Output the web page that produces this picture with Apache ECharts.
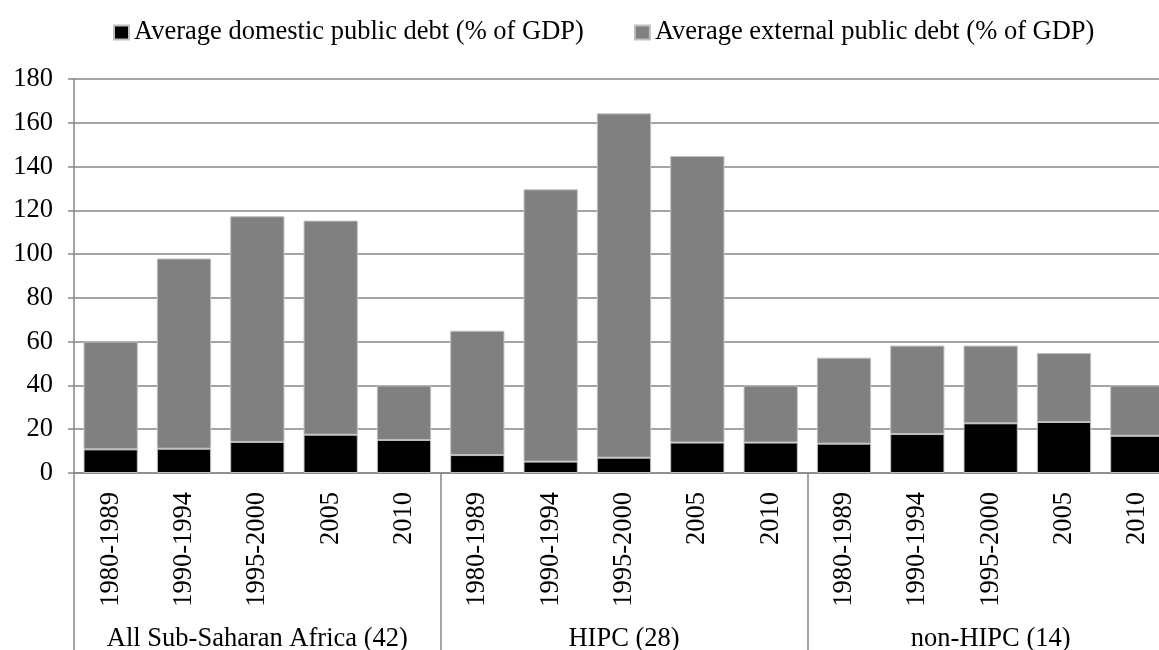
<!DOCTYPE html>
<html>
<head>
<meta charset="utf-8">
<script src="https://cdn.jsdelivr.net/npm/echarts@6/dist/echarts.min.js"></script>
<style>
    html, body { margin: 0; padding: 0; background: #fff; }
    #container { width: 1159px; height: 650px; }
</style>
</head>
<body>
<div id="container"></div>
<script>
    // periods repeated inside each country group
    var periods = ['1980-1989', '1990-1994', '1995-2000', '2005', '2010'];
    var groups = ['All Sub-Saharan Africa (42)', 'HIPC (28)', 'non-HIPC (14)'];
    var categories = [].concat(periods, periods, periods);

    // % of GDP
    var domestic = [10.8, 11.1, 14.2, 17.5, 15.1,   8.2, 5.2, 7.0, 13.9, 13.9,   13.4, 17.8, 22.7, 23.3, 17.0];
    var external = [49.2, 86.9, 103.1, 97.8, 24.9,  56.8, 124.4, 157.3, 130.9, 26.1,  39.3, 40.4, 35.5, 31.5, 23.0];

    var seriesNames = ['Average domestic public debt (% of GDP)', 'Average external public debt (% of GDP)'];
    var yTicks = { min: 0, max: 180, interval: 20 };

    var font = '"Liberation Serif", "Times New Roman", serif';
    var fs = 26.5;
    var gridColor = '#868686';

    var myChart = echarts.init(document.getElementById('container'));
    var option = {
        animation: false,
        textStyle: { fontFamily: font, color: '#000' },
        legend: {
            left: 108,
            top: 14,
            icon: 'rect',
            itemWidth: 15,
            itemHeight: 14,
            itemGap: 50,
            textStyle: { fontFamily: font, fontSize: fs, color: '#000' },
            data: seriesNames
        },
        grid: {
            left: 74,
            width: 1100,   // last column runs past the right edge, as in the source
            top: 79,
            bottom: 177,
            outerBoundsMode: 'none'
        },
        xAxis: [
            {
                type: 'category',
                data: categories,
                axisLine: { lineStyle: { color: gridColor, width: 1.5 } },
                axisTick: { show: false },
                axisLabel: {
                    rotate: 90,
                    interval: 0,
                    margin: 19,
                    fontFamily: font,
                    fontSize: fs,
                    color: '#000'
                }
            },
            {
                type: 'category',
                position: 'bottom',
                data: groups,
                axisLine: { show: false },
                axisTick: { show: true, interval: 0, length: 180, lineStyle: { color: gridColor, width: 1.5 } },
                axisLabel: {
                    interval: 0,
                    margin: 153,
                    fontFamily: font,
                    fontSize: fs,
                    color: '#000'
                }
            }
        ],
        yAxis: {
            type: 'value',
            min: yTicks.min,
            max: yTicks.max,
            interval: yTicks.interval,
            axisLine: { show: true, lineStyle: { color: gridColor, width: 1.5 } },
            axisTick: { show: true, length: 6, lineStyle: { color: gridColor, width: 1.5 } },
            axisLabel: { margin: 21, fontFamily: font, fontSize: fs, color: '#000' },
            splitLine: { lineStyle: { color: gridColor, width: 1.5 } }
        },
        series: [
            {
                name: seriesNames[0],
                type: 'bar',
                stack: 'debt',
                barCategoryGap: '26%',
                itemStyle: { color: '#000000', borderColor: '#bfbfbf', borderWidth: 1 },
                data: domestic
            },
            {
                name: seriesNames[1],
                type: 'bar',
                stack: 'debt',
                barCategoryGap: '26%',
                itemStyle: { color: '#808080', borderColor: '#bfbfbf', borderWidth: 1 },
                data: external
            }
        ]
    };
    myChart.setOption(option);
</script>
</body>
</html>
